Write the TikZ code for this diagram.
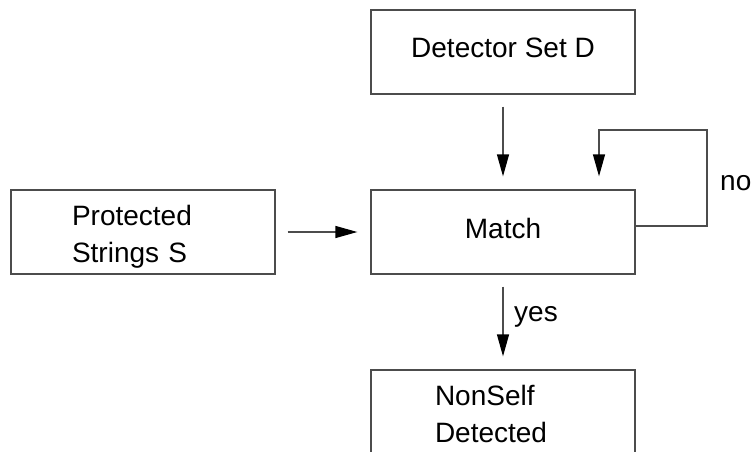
\documentclass[tikz,border=0pt]{standalone}
\usepackage{fontspec}
\setmainfont{Liberation Sans}
\usetikzlibrary{arrows.meta}
\definecolor{linegray}{gray}{0.3}
\begin{document}
\begin{tikzpicture}[x=1pt,y=-1pt,
  box/.style={draw=linegray, line width=1.3pt, minimum width=264pt, minimum height=84pt,
    inner sep=0pt, font=\fontsize{28}{37}\selectfont, text height=20.4pt},
  oneline/.style={text depth=8.4pt},
  twoline/.style={align=left, text depth=34.4pt},
  lbl/.style={font=\fontsize{28}{37}\selectfont, inner sep=0pt, anchor=base west},
  arr/.style={draw=linegray, line width=1.3pt, -{Triangle[length=22pt,width=12pt,color=black]}},
  gap/.style={shorten <=12pt, shorten >=13pt}]
\useasboundingbox (0,0) rectangle (752,452);
\clip (0,0) rectangle (752,452);

\node[box, oneline] (D) at (503,52) {Detector Set D};
\node[box, oneline] (M) at (503,232) {Match};
\node[box, twoline, text width=142pt] (P) at (143,232) {Protected\\Strings S};
\node[box, twoline, text width=136pt] (N) at (503,412) {NonSelf\\Detected};

\draw[arr, gap] (D) -- (M);
\draw[arr, gap] (P) -- (M);
\draw[arr, gap] (M) -- (N);

\coordinate (lr) at (707,130);
\draw[arr, shorten >=13pt] ([yshift=6pt]M.east) -| (lr) -| ([xshift=96pt]M.north);

\node[lbl] (yes) at (514,321) {yes};
\node[lbl] (no) at (720,190) {no};
\end{tikzpicture}
\end{document}
